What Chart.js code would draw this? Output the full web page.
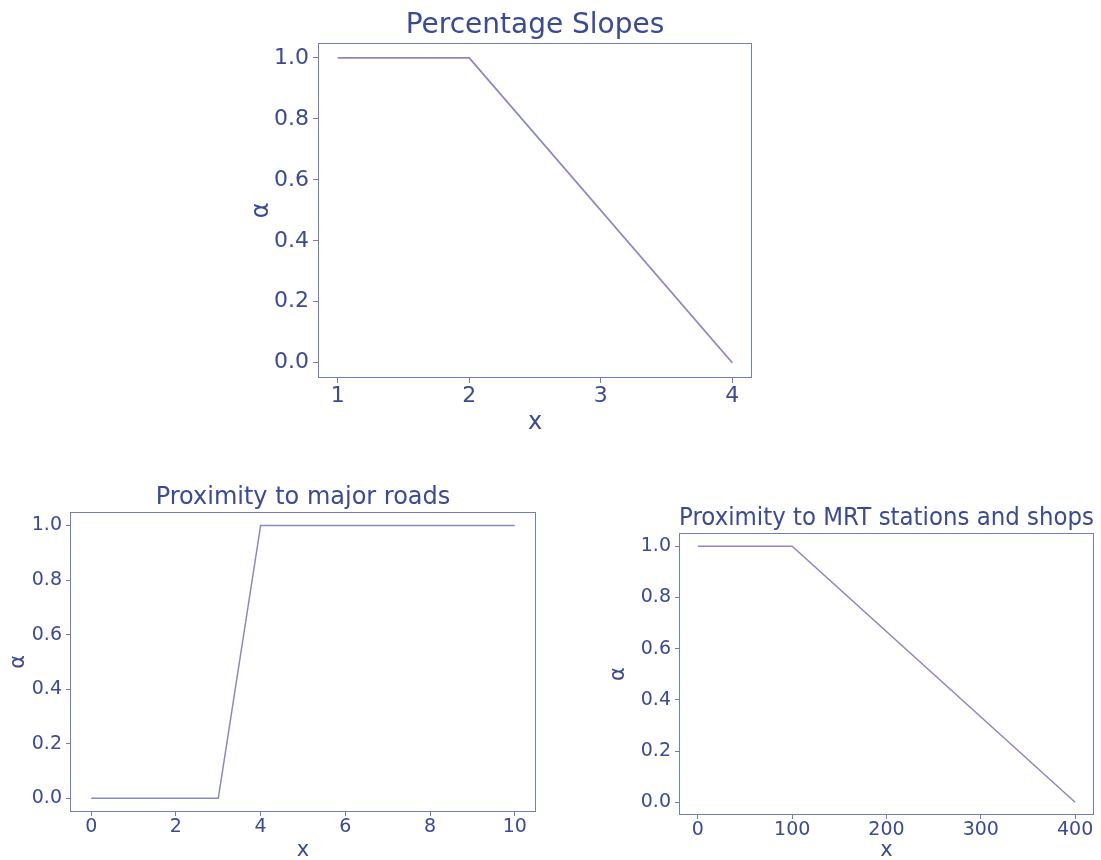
<!DOCTYPE html>
<html>
<head>
<meta charset="utf-8">
<script src="https://cdn.jsdelivr.net/npm/chart.js@4.4.0/dist/chart.umd.min.js"></script>
<style>
  body { margin: 0; background: #fff; }
  #wrap { position: relative; width: 1101px; height: 860px; }
  canvas { position: absolute; }
</style>
</head>
<body>
<div id="wrap">
  <canvas id="slopeChart" style="left:240px;top:0px;" width="530" height="440"></canvas>
  <canvas id="roadChart" style="left:0px;top:470px;" width="560" height="390"></canvas>
  <canvas id="mrtChart" style="left:600px;top:490px;" width="501" height="370"></canvas>
</div>
<script>
// Percentage Slopes
const slopeX = [1, 2, 4];
const slopeY = [1, 1, 0];
const slopeXTicks = [1, 2, 3, 4];

// Proximity to major roads
const roadX = [0, 3, 4, 10];
const roadY = [0, 0, 1, 1];
const roadXTicks = [0, 2, 4, 6, 8, 10];

// Proximity to MRT stations and shops
const mrtX = [0, 100, 400];
const mrtY = [1, 1, 0];
const mrtXTicks = [0, 100, 200, 300, 400];

const alphaTicks = [0, 0.2, 0.4, 0.6, 0.8, 1.0];

const TEXT = '#3a4a95';
const LINE = '#8a88c2';
const SPINE = '#737cc0';
const FONT = 'DejaVu Sans';

// matplotlib-like full box around the plot area
const boxPlugin = {
  id: 'box',
  afterDraw(chart, args, opts) {
    const a = chart.chartArea;
    const ctx = chart.ctx;
    const l = Math.round(a.left) + 0.5, t = Math.round(a.top) + 0.5;
    const r = Math.round(a.right) - 0.5, b = Math.round(a.bottom) - 0.5;
    ctx.save();
    ctx.strokeStyle = SPINE;
    ctx.lineWidth = opts.width || 1;
    ctx.strokeRect(l, t, r - l, b - t);
    ctx.restore();
  }
};

const makeChart = (id, xs, ys, xTicks, s) => {
  const span = Math.max(...xs) - Math.min(...xs);
  const xmin = Math.min(...xs) - span * 0.05;
  const xmax = Math.max(...xs) + span * 0.05;
  const points = xs.map((x, i) => ({ x, y: ys[i] }));

  new Chart(document.getElementById(id).getContext('2d'), {
    type: 'line',
    data: {
      datasets: [
        {
          data: points,
          borderColor: LINE,
          borderWidth: s.lineWidth,
          pointRadius: 0,
          tension: 0,
          fill: false,
        },
      ],
    },
    options: {
      responsive: false,
      animation: false,
      layout: { padding: { right: s.right, top: 0, bottom: 0, left: 0 } },
      plugins: {
        legend: { display: false },
        tooltip: { enabled: false },
        title: {
          display: true,
          text: s.title,
          color: TEXT,
          fullSize: false,
          font: { family: FONT, size: s.titleSize, weight: 'normal', lineHeight: 1.2 },
          padding: { top: s.titleTop, bottom: s.titleBottom },
        },
        box: { width: 1 },
      },
      scales: {
        x: {
          type: 'linear',
          min: xmin,
          max: xmax,
          afterBuildTicks: (scale) => { scale.ticks = xTicks.map((v) => ({ value: v })); },
          afterFit: (scale) => { scale.height = s.xAxisH; },
          border: { display: false },
          grid: { drawOnChartArea: false, drawTicks: true, tickLength: s.tickLen, color: SPINE, lineWidth: 1 },
          ticks: {
            color: TEXT,
            padding: s.xTickPad,
            maxRotation: 0,
            autoSkip: false,
            font: { family: FONT, size: s.tickSize },
            callback: (v) => String(v),
          },
          title: {
            display: true,
            text: 'x',
            color: TEXT,
            font: { family: FONT, size: s.labelSize },
            padding: { top: 0, bottom: s.xLabelPad },
          },
        },
        y: {
          type: 'linear',
          min: -0.05,
          max: 1.05,
          afterBuildTicks: (scale) => { scale.ticks = alphaTicks.map((v) => ({ value: v })); },
          afterFit: (scale) => { scale.width = s.yAxisW; },
          border: { display: false },
          grid: { drawOnChartArea: false, drawTicks: true, tickLength: s.tickLen, color: SPINE, lineWidth: 1 },
          ticks: {
            color: TEXT,
            padding: s.yTickPad,
            autoSkip: false,
            font: { family: FONT, size: s.tickSize },
            callback: (v) => Number(v).toFixed(1),
          },
          title: {
            display: true,
            text: 'α',
            color: TEXT,
            font: { family: FONT, size: s.labelSize },
            padding: { top: s.yLabelPad, bottom: 0 },
          },
        },
      },
    },
    plugins: [boxPlugin],
  });
};

makeChart('slopeChart', slopeX, slopeY, slopeXTicks, {
  title: 'Percentage Slopes', titleSize: 28, titleTop: 9, titleBottom: 0,
  tickSize: 22, labelSize: 24, right: 18, yAxisW: 78, xAxisH: 62,
  tickLen: 5, xTickPad: 0, yTickPad: 4, xLabelPad: 3, yLabelPad: 7,
  lineWidth: 1.8,
});

makeChart('roadChart', roadX, roadY, roadXTicks, {
  title: 'Proximity to major roads', titleSize: 24, titleTop: 13, titleBottom: 0,
  tickSize: 19, labelSize: 21, right: 24, yAxisW: 70, xAxisH: 48,
  tickLen: 4, xTickPad: 0, yTickPad: 4, xLabelPad: -3, yLabelPad: 6,
  lineWidth: 1.5,
});

makeChart('mrtChart', mrtX, mrtY, mrtXTicks, {
  title: 'Proximity to MRT stations and shops', titleSize: 24, titleTop: 14.6, titleBottom: 0,
  tickSize: 19, labelSize: 21, right: 7, yAxisW: 79, xAxisH: 45,
  tickLen: 4, xTickPad: 0, yTickPad: 4, xLabelPad: -3, yLabelPad: 6,
  lineWidth: 1.5,
});
</script>
</body>
</html>
